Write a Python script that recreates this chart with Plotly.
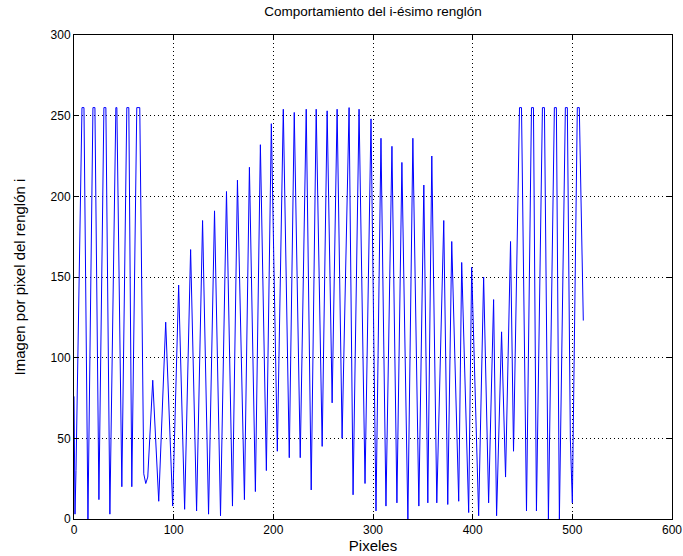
import plotly.graph_objects as go

# Extrema of the i-th row profile (pixel index, intensity)
pixel_idx = [0, 1, 2, 8, 10, 14, 19, 21, 25, 30, 32, 36, 42, 43, 48, 53, 55, 58, 63, 66,
             70, 72, 74, 79, 85, 92, 99, 105, 111, 117, 123, 129, 135, 141, 147, 153, 159,
             164, 171, 176, 182, 187, 193, 198, 204, 210, 216, 221, 227, 233, 238, 243, 249,
             254, 259, 264, 269, 276, 280, 286, 292, 298, 303, 308, 313, 319, 324, 329, 335,
             340, 346, 351, 355, 359, 364, 371, 375, 379, 386, 389, 396, 399, 406, 411, 416,
             421, 424, 429, 433, 438, 441, 447, 449, 454, 459, 461, 464, 470, 472, 476, 482,
             484, 487, 493, 495, 498, 500, 505, 507, 511]
intensity = [76, 3, 30, 255, 255, 0, 255, 255, 12, 255, 255, 3, 255, 255, 20, 255, 255, 20, 255, 255,
             28, 22, 26, 86, 11, 122, 8, 145, 6, 167, 5, 185, 3, 191, 2, 203, 8,
             210, 12, 218, 17, 232, 30, 245, 42, 254, 38, 252, 38, 254, 18, 254, 45,
             253, 72, 254, 50, 255, 15, 254, 22, 248, 5, 236, 8, 231, 10, 221, 0,
             236, 8, 207, 10, 225, 10, 185, 9, 172, 11, 159, 4, 156, 2, 150, 10,
             136, 2, 116, 26, 172, 42, 255, 255, 5, 255, 255, 5, 255, 255, 0, 255,
             255, 0, 255, 255, 50, 10, 255, 255, 123]

x_ticks = [0, 100, 200, 300, 400, 500, 600]
y_ticks = [0, 50, 100, 150, 200, 250, 300]

family = "Liberation Sans, Arial, sans-serif"
font = dict(family=family, size=12, color="black")

fig = go.Figure()
fig.add_trace(go.Scatter(x=pixel_idx, y=intensity, mode="lines",
                         line=dict(color="#0000ff", width=1), showlegend=False))

axis_common = dict(showline=True, linecolor="black", linewidth=1, mirror="allticks",
                   ticks="inside", ticklen=5, tickcolor="black",
                   showgrid=True, gridcolor="black", griddash="1px,3px", gridwidth=1,
                   zeroline=False, tickfont=font, automargin=False)

fig.update_xaxes(range=[0, 600], tickvals=x_ticks,
                 title=dict(text="Pixeles", font=dict(family=family, size=15, color="black"), standoff=2),
                 **axis_common)
fig.update_yaxes(range=[0, 300], tickvals=y_ticks,
                 title=dict(text="Imagen por pixel del renglón i", font=dict(family=family, size=15, color="black"), standoff=21),
                 **axis_common)

fig.update_layout(
    width=683, height=556,
    margin=dict(l=74, r=11, t=35, b=37),
    paper_bgcolor="white", plot_bgcolor="white",
    title=dict(text="Comportamiento del i-ésimo renglón", x=0.5, xanchor="center",
               xref="paper", y=1, yref="container", yanchor="top", pad=dict(t=7),
               font=dict(family=family, size=13.5, color="black")),
)

fig.write_html("out.html")
